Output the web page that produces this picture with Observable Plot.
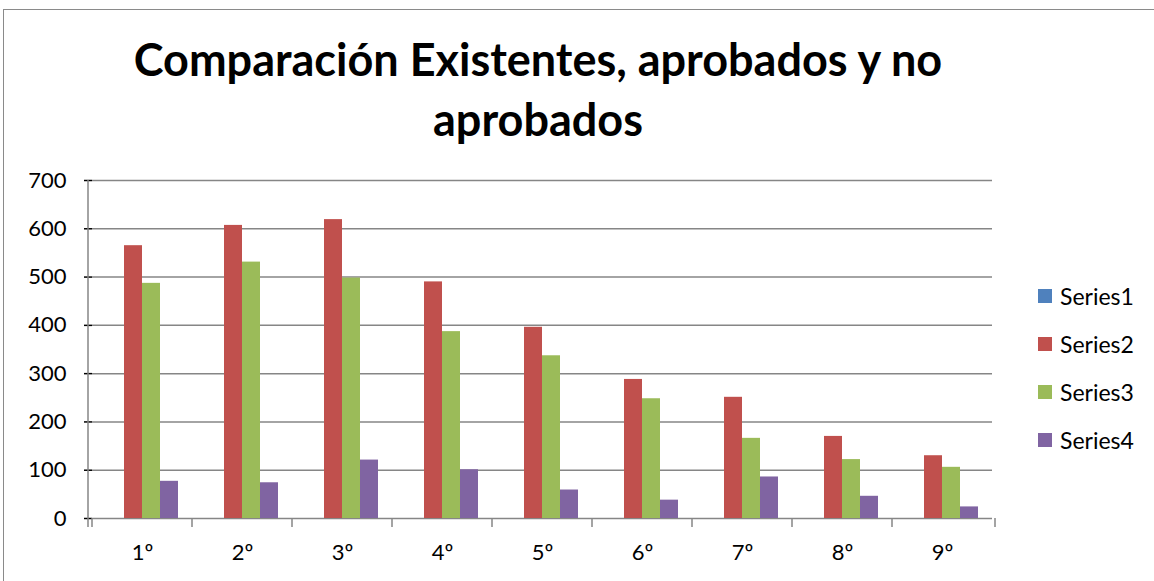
<!DOCTYPE html>
<html><head><meta charset="utf-8">
<script src="https://cdn.jsdelivr.net/npm/d3@7"></script>
<script src="https://cdn.jsdelivr.net/npm/@observablehq/plot@0.6"></script>
<style>
body{margin:0;background:#fff;font-family:Lato,"Open Sans",sans-serif;}
#wrap{position:relative;width:1154px;height:581px;overflow:hidden;background:#fff;}
#border{position:absolute;left:3px;top:9px;width:1200px;height:620px;border:1.5px solid #8a8a8a;box-sizing:border-box;}
#title{position:absolute;left:0;top:29px;width:1076px;text-align:center;font-weight:bold;font-size:45px;line-height:60px;color:#000;}
#chart{position:absolute;left:0;top:160px;}
#legend{position:absolute;left:1038px;top:272px;font-size:23px;line-height:48px;color:#000;}
#legend .it{display:flex;align-items:center;white-space:nowrap;}
#legend .sw{width:14px;height:14px;margin-right:8px;display:inline-block;}
</style>
</head><body>
<div id="wrap">
<div id="border"></div>
<div id="title">Comparación Existentes, aprobados y no<br>aprobados</div>
<div id="chart"></div>
<div id="legend"></div>
</div>
<script>
const categories = ["1º","2º","3º","4º","5º","6º","7º","8º","9º"];
const seriesNames = ["Series1","Series2","Series3","Series4"];
const series1 = [0,0,0,0,0,0,0,0,0];
const series2 = [565,607,619,490,396,288,251,170,130];
const series3 = [487,531,498,387,337,248,166,122,106];
const series4 = [77,74,121,101,59,38,86,46,24];
const yTicks = [0,100,200,300,400,500,600,700];
const colors = ["#4F81BD","#C0504D","#9BBB59","#8064A2"];

const allSeries = [series1,series2,series3,series4];
const data = categories.flatMap((c,i)=>seriesNames.map((s,j)=>({cat:c, series:s, value:allSeries[j][i]})));

const chart = Plot.plot({
  width:1154, height:421,
  marginLeft:88, marginRight:159, marginTop:20, marginBottom:63,
  style:{fontFamily:"Lato, 'Open Sans', sans-serif", fontSize:"22px", color:"#000", background:"transparent"},
  fx:{domain:categories, padding:0, label:null},
  x:{domain:seriesNames, paddingInner:0, paddingOuter:0.74, axis:null},
  y:{domain:[0,700], label:null},
  color:{domain:seriesNames, range:colors},
  marks:[
    Plot.ruleY(yTicks, {stroke:"#868686", strokeWidth:1.5}),
    Plot.barY(data, {fx:"cat", x:"series", y:"value", fill:"series"}),
    Plot.axisY(yTicks, {tickSize:8, tickPadding:18, fontSize:22, label:null}),
    Plot.axisFx({anchor:"bottom", tickSize:0, tickPadding:26, fontSize:22, label:null})
  ]
});
document.getElementById("chart").appendChild(chart);

// axis line and category boundary ticks, from the plot's own scales
const fx = chart.scale("fx"), y = chart.scale("y");
const svg = d3.select(chart);
svg.selectAll('[aria-label="y-axis tick"]').attr("stroke","#868686").attr("stroke-width",1.5);
const g = svg.append("g").attr("stroke","#868686").attr("stroke-width",1.5);
const x0 = fx.range[0], x1 = fx.range[1];
g.append("line").attr("x1",x0).attr("x2",x0).attr("y1",y.apply(700)).attr("y2",y.apply(0)+9);
const bounds = categories.map(c=>fx.apply(c)).concat([x1]);
bounds.forEach(b=>g.append("line").attr("x1",b).attr("x2",b).attr("y1",y.apply(0)).attr("y2",y.apply(0)+9));

// legend
const leg = d3.select("#legend");
seriesNames.forEach((s,i)=>{
  const it = leg.append("div").attr("class","it");
  it.append("span").attr("class","sw").style("background",colors[i]);
  it.append("span").text(s);
});
</script>
</body></html>
